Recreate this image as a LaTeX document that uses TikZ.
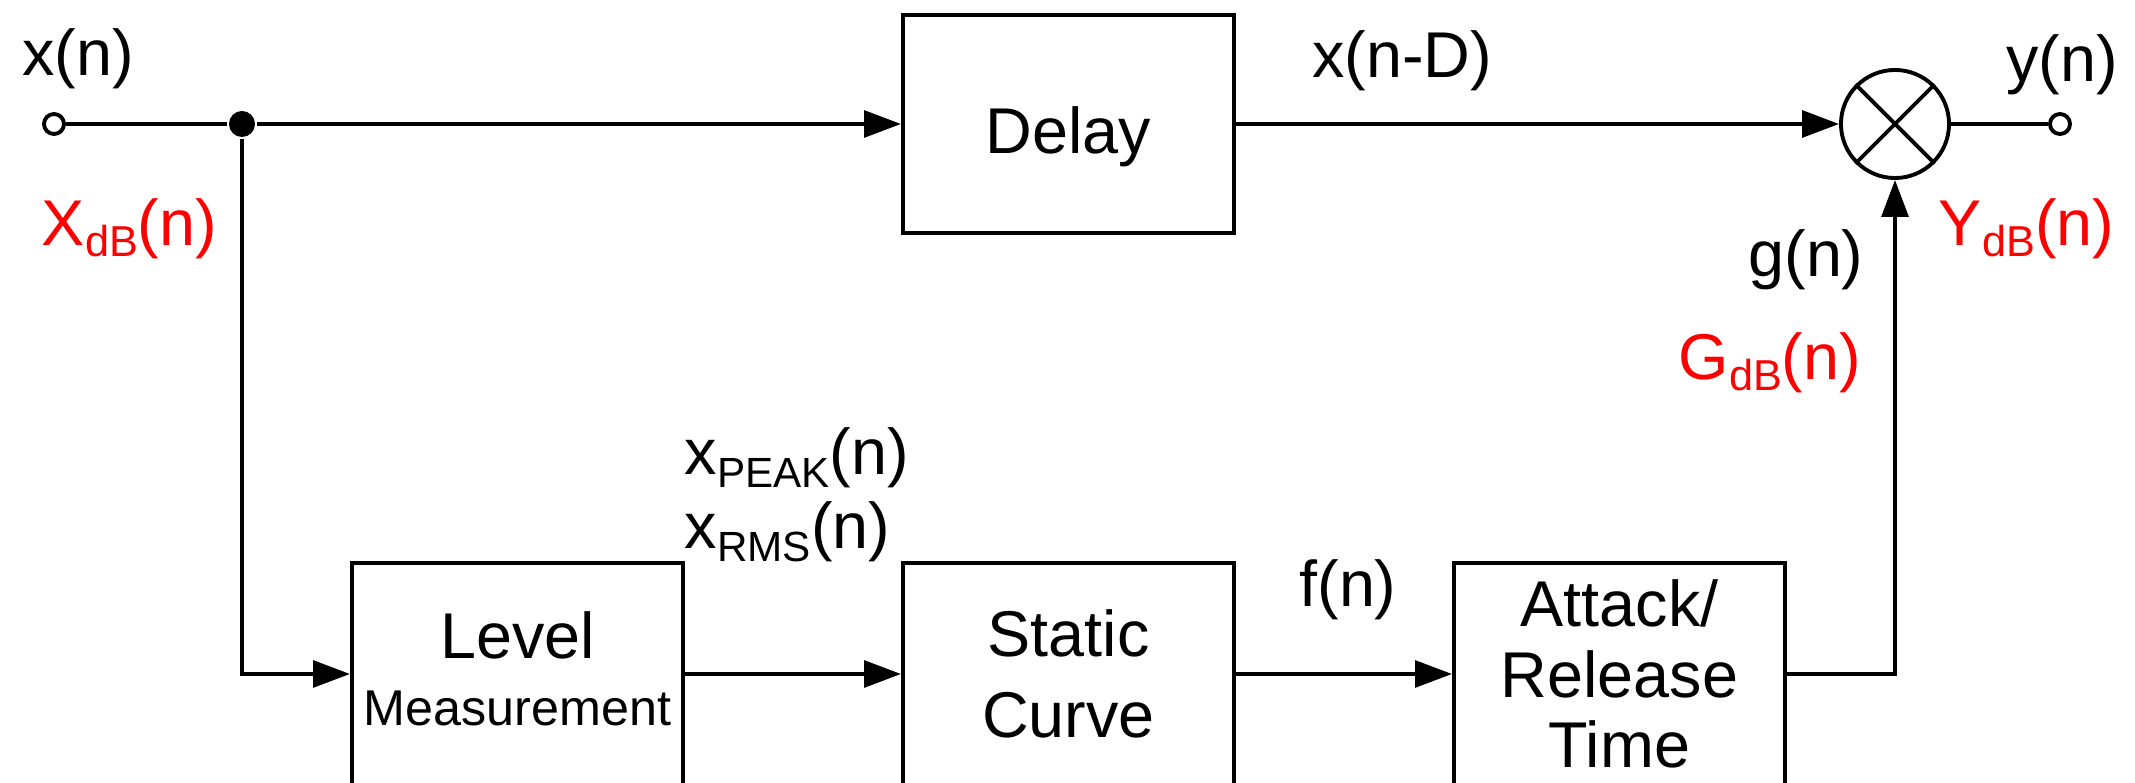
\documentclass[tikz,border=0pt]{standalone}
\usepackage{fontspec}
\setmainfont{Liberation Sans}
\usetikzlibrary{arrows.meta}
\newcommand\mainsz{\fontsize{18.4}{22}\selectfont}
\newcommand\lowsub[1]{\raisebox{-3.2pt}{\fontsize{12.3}{14}\selectfont #1}}
\newcommand\lowsubb[1]{\raisebox{-3.7pt}{\fontsize{12}{14}\selectfont #1}}
\begin{document}
\begin{tikzpicture}[x=0.01cm,y=-0.01cm,
  line width=1.1pt,
  blk/.style={draw, rectangle, minimum width=3.31cm, align=center, font=\mainsz, inner sep=0pt},
  lbl/.style={inner sep=0pt, font=\mainsz},
  redlbl/.style={lbl, text=red},
  arr/.style={-{Triangle[length=10.5pt,width=7.6pt]}},
  port/.style={circle, draw, fill=white, minimum size=0.2cm, inner sep=0pt},
  jdot/.style={circle, fill, minimum size=0.26cm, inner sep=0pt}
]
\useasboundingbox (0,0) rectangle (2135,783);

% blocks
\node[blk, minimum height=2.18cm] (delay) at (1068.5,124) {\rule{0pt}{20.4pt}Delay};
\node[blk, minimum height=2.21cm] (level) at (517.5,674) {Level\\[-3.2pt]{\fontsize{14.3}{17}\selectfont Measurement\rule[-3.1pt]{0pt}{0pt}}};
\node[blk, minimum height=2.21cm] (static) at (1068.5,674) {Static\\[1pt]Curve};
\node[blk, minimum height=2.21cm] (attack) at (1619.5,674) {Attack/\\[-2pt]Release\\[-2pt]Time};

% ports, junction, multiplier
\node[port] (in) at (54,124) {};
\node[jdot] (junc) at (242,124) {};
\node[circle, draw, minimum size=1.08cm, inner sep=0pt] (mult) at (1895,124) {};
\draw (mult.45) -- (mult.225) (mult.135) -- (mult.315);
\node[port] (out) at (2060,124) {};

% connectors
\draw (in) -- (junc);
\draw[arr] (junc) -- (delay);
\draw[arr] (delay) -- (mult);
\draw (mult) -- (out);
\draw[arr] (junc) |- (level);
\draw[arr] (level) -- (static);
\draw[arr] (static) -- (attack);
\draw[arr] (attack) -| (mult);

% labels
\node[lbl] (lx) at (78,59) {x(n)};
\node[redlbl, anchor=west] (lXdB) at (40,229) {X\lowsub{dB}(n)};
\node[lbl] (lxD) at (1402,61) {x(n-D)};
\node[lbl] (ly) at (2062,65) {y(n)};
\node[redlbl, anchor=west] (lYdB) at (1937,229) {Y\lowsub{dB}(n)};
\node[lbl] (lg) at (1806,260) {g(n)};
\node[redlbl, anchor=east] (lGdB) at (1863,363) {G\lowsub{dB}(n)};
\node[lbl, anchor=west] (lpeak) at (683,458) {x\lowsubb{PEAK}(n)};
\node[lbl, anchor=west] (lrms) at (683,532) {x\lowsubb{RMS}(n)};
\node[lbl] (lf) at (1348,590) {f(n)};
\end{tikzpicture}
\end{document}
